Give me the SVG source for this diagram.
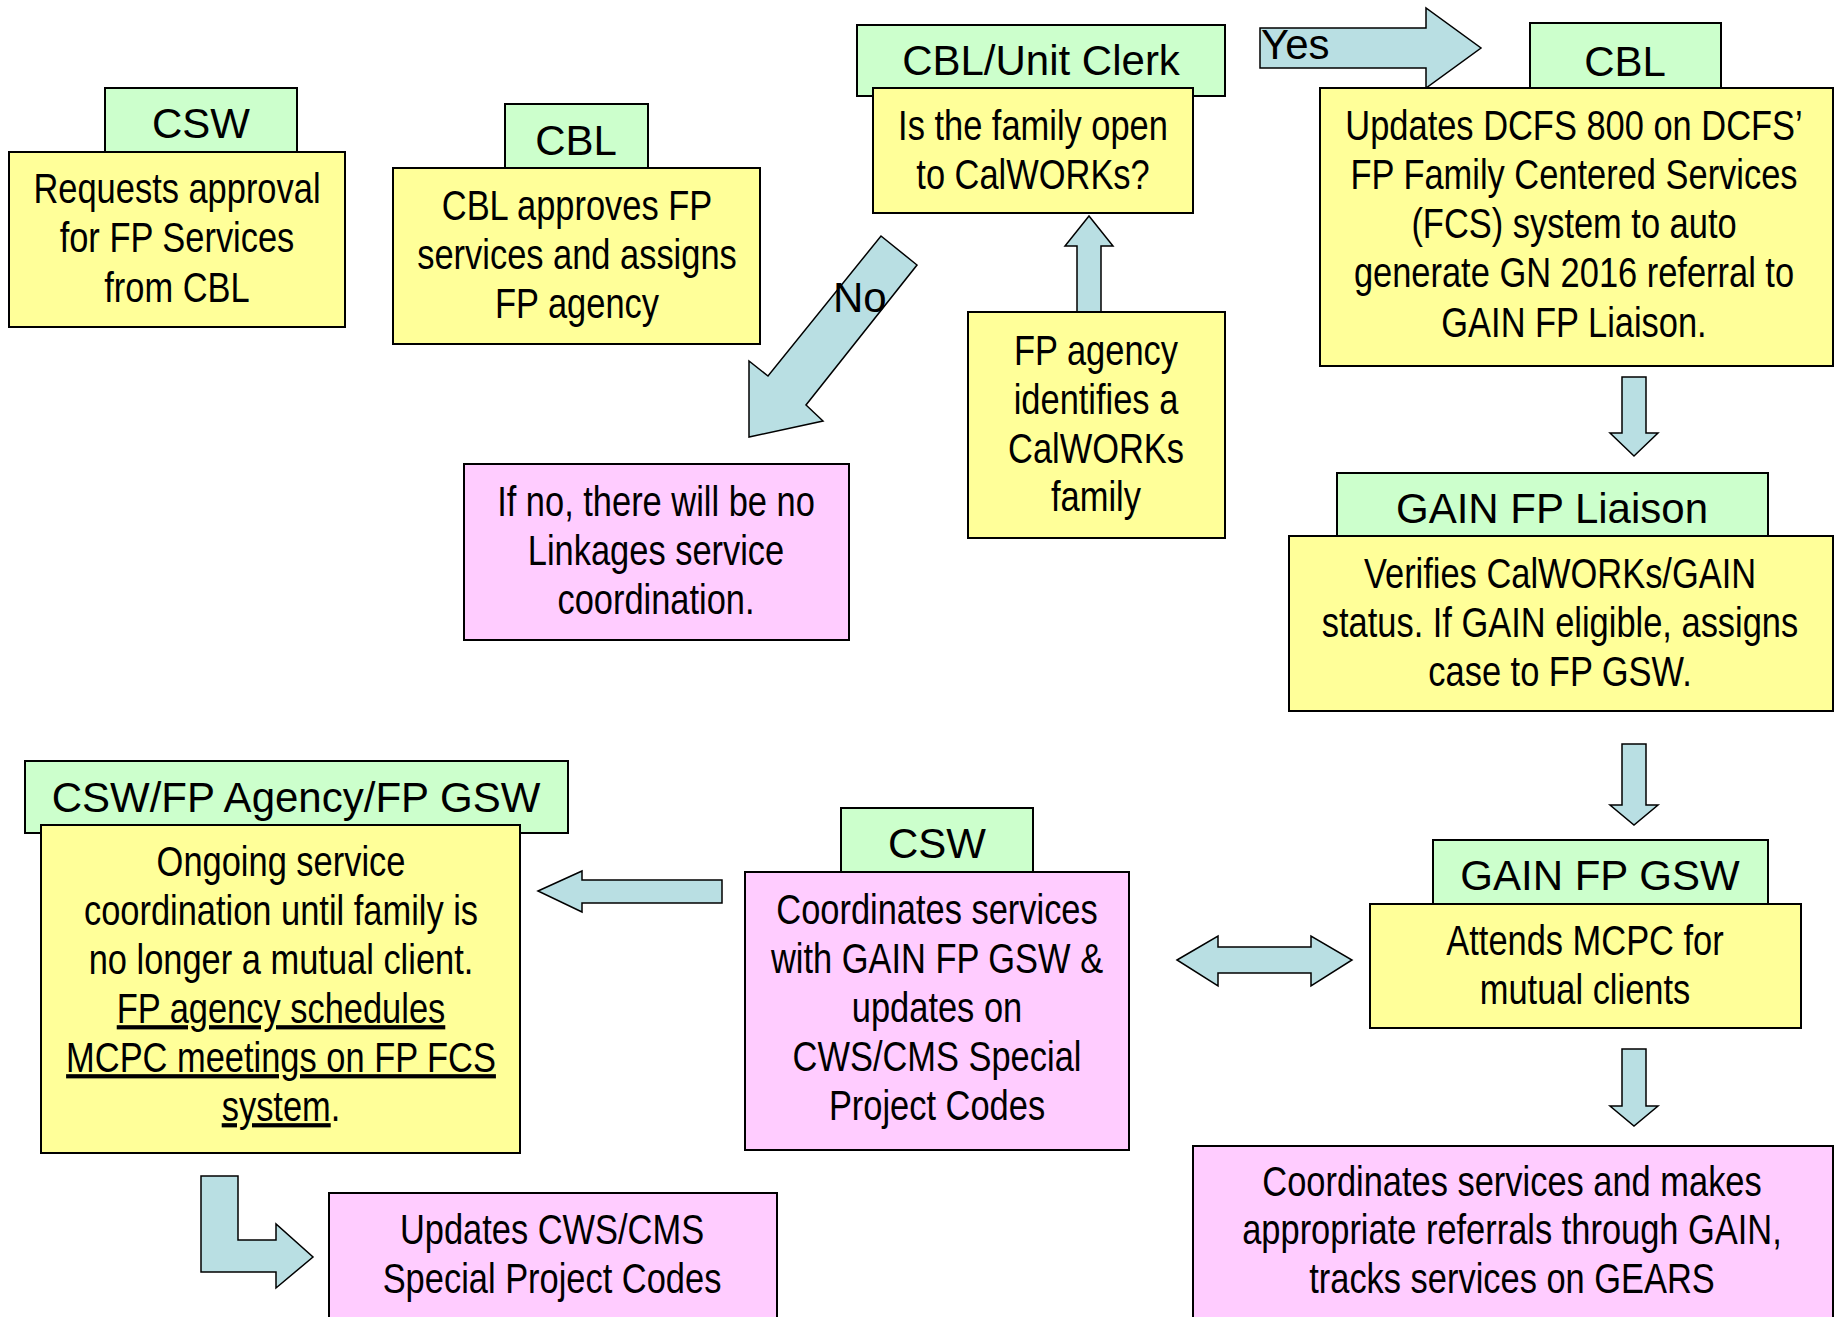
<svg xmlns="http://www.w3.org/2000/svg" width="1834" height="1317" viewBox="0 0 1834 1317">
<style>
.tab{fill:#CCFFCC;stroke:#000;stroke-width:2}
.y{fill:#FFFF99;stroke:#000;stroke-width:2}
.p{fill:#FFCCFF;stroke:#000;stroke-width:2}
.ar{fill:#B9DFE3;stroke:#000;stroke-width:1.5;stroke-linejoin:miter}
.h{font-family:"Liberation Sans",Arial,sans-serif;font-size:42px;text-anchor:middle;fill:#000}
.t{font-family:"Liberation Sans",Arial,sans-serif;font-size:42px;text-anchor:middle;fill:#000}
.lbl{font-family:"Liberation Sans",Arial,sans-serif;font-size:42px;fill:#000}
.u{text-decoration:underline}
</style>
<rect width="1834" height="1317" fill="#fff"/>
<g id="connectors">
<polygon class="ar" points="1260,28 1426,28 1426,8 1481,48 1426,88 1426,68 1260,68"/>
<text class="lbl" x="1261" y="59">Yes</text>
<polygon class="ar" points="881,236 917,265 806,405 823,421 749,437 749,361 768,376"/>
<text class="lbl" x="833" y="312">No</text>
<polygon class="ar" points="1077,312 1077,246 1065,246 1089,216 1113,246 1101,246 1101,312"/>
<polygon class="ar" points="1622,377 1646,377 1646,433 1658,433 1634,456 1610,433 1622,433"/>
<polygon class="ar" points="1622,744 1646,744 1646,805 1658,805 1634,825 1610,805 1622,805"/>
<polygon class="ar" points="1622,1049 1646,1049 1646,1106 1658,1106 1634,1126 1610,1106 1622,1106"/>
<polygon class="ar" points="1177,960 1218,936 1218,947 1311,947 1311,936 1352,960 1311,986 1311,973 1218,973 1218,986"/>
<polygon class="ar" points="538,891 582,871 582,880 722,880 722,903 582,903 582,912"/>
<polygon class="ar" points="201,1176 238,1176 238,1240 276,1240 276,1224 313,1257 276,1288 276,1272 201,1272"/>
</g>
<g id="n1">
<rect class="tab" x="105" y="88" width="192" height="64"/>
<text class="h" x="201" y="138">CSW</text>
<rect class="y" x="9" y="152" width="336" height="175"/>
<text class="t" transform="translate(177 0) scale(0.82 1)"><tspan x="0" y="203">Requests approval</tspan><tspan x="0" y="252">for FP Services</tspan><tspan x="0" y="302">from CBL</tspan></text>
</g>
<g id="n2">
<rect class="tab" x="505" y="104" width="143" height="64"/>
<text class="h" x="576" y="155">CBL</text>
<rect class="y" x="393" y="168" width="367" height="176"/>
<text class="t" transform="translate(577 0) scale(0.82 1)"><tspan x="0" y="220">CBL approves FP</tspan><tspan x="0" y="269">services and assigns</tspan><tspan x="0" y="318">FP agency</tspan></text>
</g>
<g id="n3">
<rect class="tab" x="857" y="25" width="368" height="71"/>
<text class="h" x="1041" y="75">CBL/Unit Clerk</text>
<rect class="y" x="873" y="88" width="320" height="125"/>
<text class="t" transform="translate(1033 0) scale(0.82 1)"><tspan x="0" y="140">Is the family open</tspan><tspan x="0" y="189">to CalWORKs?</tspan></text>
</g>
<g id="n4">
<rect class="tab" x="1530" y="23" width="191" height="65"/>
<text class="h" x="1625" y="76">CBL</text>
<rect class="y" x="1320" y="88" width="513" height="278"/>
<text class="t" transform="translate(1574 0) scale(0.82 1)"><tspan x="0" y="140">Updates DCFS 800 on DCFS’</tspan><tspan x="0" y="189">FP Family Centered Services</tspan><tspan x="0" y="238">(FCS) system to auto</tspan><tspan x="0" y="287">generate GN 2016 referral to</tspan><tspan x="0" y="337">GAIN FP Liaison.</tspan></text>
</g>
<g id="n5">
<rect class="tab" x="1337" y="473" width="431" height="63"/>
<text class="h" x="1552" y="523">GAIN FP Liaison</text>
<rect class="y" x="1289" y="536" width="544" height="175"/>
<text class="t" transform="translate(1560 0) scale(0.82 1)"><tspan x="0" y="588">Verifies CalWORKs/GAIN</tspan><tspan x="0" y="637">status. If GAIN eligible, assigns</tspan><tspan x="0" y="686">case to FP GSW.</tspan></text>
</g>
<g id="n6">
<rect class="tab" x="1433" y="840" width="335" height="64"/>
<text class="h" x="1600" y="890">GAIN FP GSW</text>
<rect class="y" x="1370" y="904" width="431" height="124"/>
<text class="t" transform="translate(1585 0) scale(0.82 1)"><tspan x="0" y="955">Attends MCPC for</tspan><tspan x="0" y="1004">mutual clients</tspan></text>
</g>
<g id="n7">
<rect class="p" x="1193" y="1146" width="640" height="180"/>
<text class="t" transform="translate(1512 0) scale(0.82 1)"><tspan x="0" y="1196">Coordinates services and makes</tspan><tspan x="0" y="1244">appropriate referrals through GAIN,</tspan><tspan x="0" y="1293">tracks services on GEARS</tspan></text>
</g>
<g id="n8">
<rect class="tab" x="841" y="808" width="192" height="64"/>
<text class="h" x="937" y="858">CSW</text>
<rect class="p" x="745" y="872" width="384" height="278"/>
<text class="t" transform="translate(937 0) scale(0.82 1)"><tspan x="0" y="924">Coordinates services</tspan><tspan x="0" y="973">with GAIN FP GSW &amp;</tspan><tspan x="0" y="1022">updates on</tspan><tspan x="0" y="1071">CWS/CMS Special</tspan><tspan x="0" y="1120">Project Codes</tspan></text>
</g>
<g id="n9">
<rect class="tab" x="25" y="761" width="543" height="72"/>
<text class="h" x="296" y="812">CSW/FP Agency/FP GSW</text>
<rect class="y" x="41" y="825" width="479" height="328"/>
<text class="t" transform="translate(281 0) scale(0.82 1)"><tspan x="0" y="876">Ongoing service</tspan><tspan x="0" y="925">coordination until family is</tspan><tspan x="0" y="974">no longer a mutual client.</tspan><tspan x="0" y="1023" class="u">FP agency schedules</tspan><tspan x="0" y="1072" class="u">MCPC meetings on FP FCS</tspan><tspan x="0" y="1121"><tspan class="u">system</tspan>.</tspan></text>
</g>
<g id="n10">
<rect class="p" x="329" y="1193" width="448" height="130"/>
<text class="t" transform="translate(552 0) scale(0.82 1)"><tspan x="0" y="1244">Updates CWS/CMS</tspan><tspan x="0" y="1293">Special Project Codes</tspan></text>
</g>
<g id="n11">
<rect class="p" x="464" y="464" width="385" height="176"/>
<text class="t" transform="translate(656 0) scale(0.82 1)"><tspan x="0" y="516">If no, there will be no</tspan><tspan x="0" y="565">Linkages service</tspan><tspan x="0" y="614">coordination.</tspan></text>
</g>
<g id="n12">
<rect class="y" x="968" y="312" width="257" height="226"/>
<text class="t" transform="translate(1096 0) scale(0.82 1)"><tspan x="0" y="365">FP agency</tspan><tspan x="0" y="414">identifies a</tspan><tspan x="0" y="463">CalWORKs</tspan><tspan x="0" y="511">family</tspan></text>
</g>
</svg>
